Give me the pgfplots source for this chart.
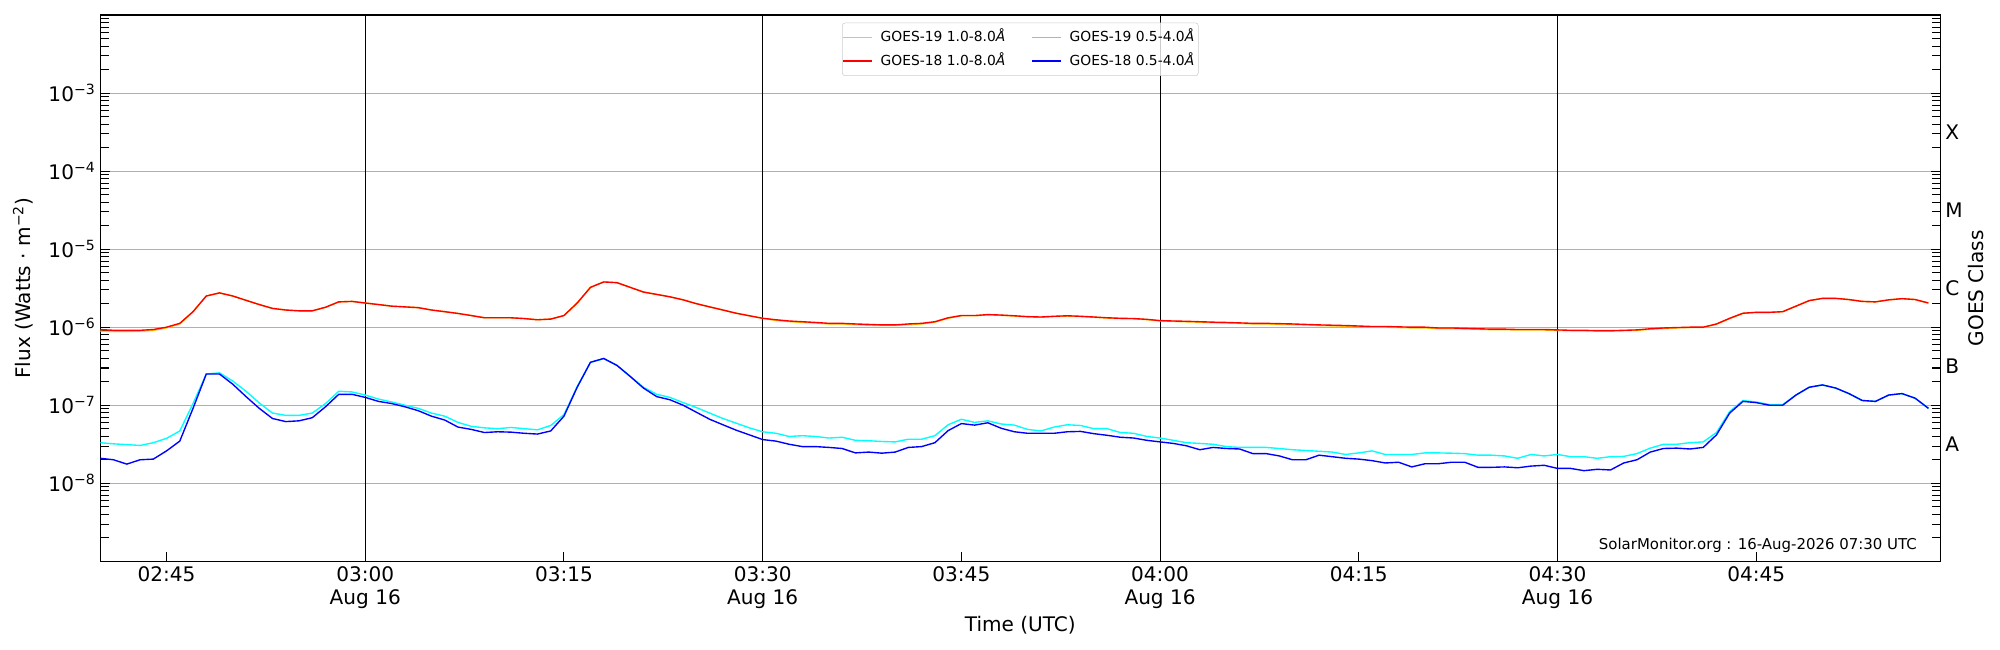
\documentclass[border=0pt]{standalone}
\usepackage{fontspec}
\setmainfont{DejaVu Sans}
\usepackage{pgfplots}
\usepackage{pgfplotstable}
\pgfplotsset{compat=1.18}
\definecolor{goldc}{RGB}{255,200,0}
\definecolor{redc}{RGB}{255,0,0}
\definecolor{cyanc}{RGB}{0,255,255}
\definecolor{bluec}{RGB}{0,0,255}
\definecolor{gridc}{RGB}{176,176,176}
\definecolor{legc}{RGB}{204,204,204}
\newcommand{\bigf}{\fontsize{14.5}{16.8}\selectfont}
\newcommand{\tpow}[1]{10\textsuperscript{−#1}}
\pgfplotstableread{
t g19l g18l g19s g18s
0 8.9e-7 9.33e-7 3.31e-8 2.09e-8
1 8.8e-7 9.12e-7 3.20e-8 2.00e-8
2 8.8e-7 9.12e-7 3.13e-8 1.76e-8
3 8.9e-7 9.12e-7 3.05e-8 2.00e-8
4 9.1e-7 9.33e-7 3.31e-8 2.04e-8
5 9.8e-7 1.00e-6 3.76e-8 2.60e-8
6 1.10e-6 1.12e-6 4.68e-8 3.47e-8
7 1.58e-6 1.58e-6 1.05e-7 9.12e-8
8 2.51e-6 2.51e-6 2.51e-7 2.51e-7
9 2.75e-6 2.75e-6 2.60e-7 2.51e-7
10 2.51e-6 2.51e-6 2.04e-7 1.86e-7
11 2.21e-6 2.21e-6 1.51e-7 1.29e-7
12 1.95e-6 1.95e-6 1.07e-7 9.12e-8
13 1.74e-6 1.74e-6 7.94e-8 6.76e-8
14 1.66e-6 1.66e-6 7.41e-8 6.17e-8
15 1.62e-6 1.62e-6 7.41e-8 6.31e-8
16 1.62e-6 1.62e-6 7.94e-8 6.92e-8
17 1.80e-6 1.80e-6 1.05e-7 9.55e-8
18 2.11e-6 2.11e-6 1.51e-7 1.38e-7
19 2.14e-6 2.14e-6 1.48e-7 1.38e-7
20 2.04e-6 2.04e-6 1.35e-7 1.26e-7
21 1.95e-6 1.95e-6 1.20e-7 1.12e-7
22 1.86e-6 1.86e-6 1.10e-7 1.05e-7
23 1.82e-6 1.82e-6 1.00e-7 9.55e-8
24 1.78e-6 1.78e-6 9.12e-8 8.51e-8
25 1.66e-6 1.66e-6 7.94e-8 7.24e-8
26 1.58e-6 1.58e-6 7.24e-8 6.46e-8
27 1.50e-6 1.50e-6 6.03e-8 5.25e-8
28 1.41e-6 1.41e-6 5.37e-8 4.90e-8
29 1.32e-6 1.32e-6 5.13e-8 4.47e-8
30 1.32e-6 1.32e-6 5.01e-8 4.57e-8
31 1.32e-6 1.32e-6 5.19e-8 4.52e-8
32 1.29e-6 1.29e-6 5.01e-8 4.37e-8
33 1.245e-6 1.245e-6 4.84e-8 4.27e-8
34 1.27e-6 1.27e-6 5.50e-8 4.68e-8
35 1.41e-6 1.41e-6 7.59e-8 7.24e-8
36 2.04e-6 2.04e-6 1.74e-7 1.70e-7
37 3.24e-6 3.24e-6 3.55e-7 3.55e-7
38 3.80e-6 3.80e-6 3.94e-7 3.98e-7
39 3.72e-6 3.72e-6 3.24e-7 3.24e-7
40 3.24e-6 3.24e-6 2.34e-7 2.34e-7
41 2.82e-6 2.82e-6 1.70e-7 1.66e-7
42 2.63e-6 2.63e-6 1.38e-7 1.29e-7
43 2.45e-6 2.45e-6 1.26e-7 1.175e-7
44 2.24e-6 2.24e-6 1.08e-7 1.00e-7
45 2.00e-6 2.00e-6 9.33e-8 8.13e-8
46 1.82e-6 1.82e-6 7.94e-8 6.61e-8
47 1.66e-6 1.66e-6 6.76e-8 5.62e-8
48 1.51e-6 1.51e-6 5.89e-8 4.79e-8
49 1.40e-6 1.40e-6 5.13e-8 4.17e-8
50 1.30e-6 1.30e-6 4.57e-8 3.63e-8
51 1.22e-6 1.245e-6 4.37e-8 3.47e-8
52 1.18e-6 1.20e-6 3.98e-8 3.16e-8
53 1.15e-6 1.175e-6 4.07e-8 2.95e-8
54 1.13e-6 1.15e-6 3.98e-8 2.95e-8
55 1.10e-6 1.12e-6 3.80e-8 2.88e-8
56 1.10e-6 1.12e-6 3.89e-8 2.79e-8
57 1.08e-6 1.10e-6 3.55e-8 2.45e-8
58 1.06e-6 1.085e-6 3.51e-8 2.51e-8
59 1.05e-6 1.07e-6 3.43e-8 2.43e-8
60 1.05e-6 1.07e-6 3.39e-8 2.51e-8
61 1.08e-6 1.10e-6 3.67e-8 2.88e-8
62 1.10e-6 1.12e-6 3.67e-8 2.95e-8
63 1.16e-6 1.175e-6 4.07e-8 3.31e-8
64 1.30e-6 1.32e-6 5.62e-8 4.73e-8
65 1.40e-6 1.41e-6 6.61e-8 5.82e-8
66 1.40e-6 1.41e-6 6.03e-8 5.56e-8
67 1.44e-6 1.45e-6 6.31e-8 5.96e-8
68 1.42e-6 1.43e-6 5.75e-8 5.07e-8
69 1.39e-6 1.40e-6 5.56e-8 4.57e-8
70 1.355e-6 1.365e-6 4.90e-8 4.37e-8
71 1.34e-6 1.35e-6 4.68e-8 4.37e-8
72 1.37e-6 1.38e-6 5.25e-8 4.37e-8
73 1.39e-6 1.40e-6 5.62e-8 4.57e-8
74 1.37e-6 1.38e-6 5.50e-8 4.62e-8
75 1.34e-6 1.35e-6 5.01e-8 4.32e-8
76 1.31e-6 1.32e-6 5.01e-8 4.12e-8
77 1.29e-6 1.30e-6 4.47e-8 3.89e-8
78 1.28e-6 1.29e-6 4.37e-8 3.80e-8
79 1.25e-6 1.26e-6 3.98e-8 3.55e-8
80 1.20e-6 1.215e-6 3.80e-8 3.39e-8
81 1.19e-6 1.20e-6 3.55e-8 3.24e-8
82 1.17e-6 1.19e-6 3.31e-8 3.02e-8
83 1.16e-6 1.175e-6 3.24e-8 2.69e-8
84 1.14e-6 1.16e-6 3.16e-8 2.88e-8
85 1.13e-6 1.15e-6 2.95e-8 2.79e-8
86 1.12e-6 1.135e-6 2.88e-8 2.75e-8
87 1.10e-6 1.12e-6 2.88e-8 2.40e-8
88 1.10e-6 1.12e-6 2.88e-8 2.40e-8
89 1.09e-6 1.11e-6 2.79e-8 2.24e-8
90 1.08e-6 1.10e-6 2.69e-8 2.00e-8
91 1.07e-6 1.085e-6 2.63e-8 2.00e-8
92 1.05e-6 1.07e-6 2.57e-8 2.29e-8
93 1.04e-6 1.06e-6 2.51e-8 2.19e-8
94 1.03e-6 1.05e-6 2.34e-8 2.09e-8
95 1.02e-6 1.035e-6 2.45e-8 2.04e-8
96 1.00e-6 1.02e-6 2.60e-8 1.95e-8
97 1.00e-6 1.02e-6 2.34e-8 1.82e-8
98 9.9e-7 1.01e-6 2.34e-8 1.86e-8
99 9.8e-7 1.00e-6 2.34e-8 1.62e-8
100 9.8e-7 1.00e-6 2.45e-8 1.78e-8
101 9.6e-7 9.77e-7 2.45e-8 1.78e-8
102 9.6e-7 9.77e-7 2.43e-8 1.86e-8
103 9.5e-7 9.66e-7 2.40e-8 1.86e-8
104 9.4e-7 9.55e-7 2.29e-8 1.60e-8
105 9.3e-7 9.44e-7 2.29e-8 1.60e-8
106 9.3e-7 9.44e-7 2.24e-8 1.62e-8
107 9.2e-7 9.33e-7 2.09e-8 1.58e-8
108 9.2e-7 9.33e-7 2.34e-8 1.66e-8
109 9.2e-7 9.33e-7 2.24e-8 1.70e-8
110 9.1e-7 9.23e-7 2.34e-8 1.55e-8
111 9.0e-7 9.12e-7 2.19e-8 1.55e-8
112 9.0e-7 9.12e-7 2.19e-8 1.45e-8
113 8.9e-7 9.02e-7 2.09e-8 1.51e-8
114 8.9e-7 9.02e-7 2.19e-8 1.48e-8
115 9.0e-7 9.12e-7 2.21e-8 1.82e-8
116 9.1e-7 9.23e-7 2.40e-8 2.00e-8
117 9.4e-7 9.55e-7 2.82e-8 2.51e-8
118 9.6e-7 9.77e-7 3.16e-8 2.79e-8
119 9.8e-7 9.89e-7 3.16e-8 2.82e-8
120 9.9e-7 1.00e-6 3.31e-8 2.75e-8
121 9.9e-7 1.00e-6 3.39e-8 2.88e-8
122 1.09e-6 1.10e-6 4.47e-8 4.17e-8
123 1.29e-6 1.30e-6 8.32e-8 7.94e-8
124 1.50e-6 1.51e-6 1.15e-7 1.12e-7
125 1.55e-6 1.55e-6 1.10e-7 1.08e-7
126 1.55e-6 1.55e-6 1.02e-7 1.00e-7
127 1.58e-6 1.58e-6 1.02e-7 1.00e-7
128 1.86e-6 1.86e-6 1.35e-7 1.35e-7
129 2.19e-6 2.19e-6 1.70e-7 1.70e-7
130 2.34e-6 2.34e-6 1.82e-7 1.82e-7
131 2.34e-6 2.34e-6 1.66e-7 1.66e-7
132 2.26e-6 2.26e-6 1.41e-7 1.41e-7
133 2.14e-6 2.14e-6 1.15e-7 1.15e-7
134 2.11e-6 2.11e-6 1.12e-7 1.12e-7
135 2.24e-6 2.24e-6 1.35e-7 1.35e-7
136 2.32e-6 2.32e-6 1.41e-7 1.41e-7
137 2.26e-6 2.26e-6 1.23e-7 1.23e-7
138 2.04e-6 2.04e-6 9.12e-8 9.12e-8
}\goesdata
\begin{document}
\begin{tikzpicture}
\path[use as bounding box] (0,0) rectangle (1445.4pt,469.75pt);
\begin{axis}[
  at={(72.49pt,64.1pt)}, anchor=south west, scale only axis,
  width=1329.8pt, height=394.8pt,
  xmin=0, xmax=138.9, ymode=log, ymin=1e-9, ymax=1e-2,
  axis line style={line width=0.9pt},
  tick align=inside, xtick pos=left, ytick pos=both,
  major tick length=7pt, minor tick length=6pt,
  tick style={black, line width=0.75pt},
  xtick={5,20,35,50,65,80,95,110,125},
  xticklabels={02:45,{03:00\\Aug 16},03:15,{03:30\\Aug 16},03:45,{04:00\\Aug 16},04:15,{04:30\\Aug 16},04:45},
  xticklabel style={align=center, font=\bigf},
  ytick={1e-8,1e-7,1e-6,1e-5,1e-4,1e-3},
  yticklabels={\tpow{8},\tpow{7},\tpow{6},\tpow{5},\tpow{4},\tpow{3}},
  yticklabel style={font=\bigf},
  minor ytick={2e-9,3e-9,4e-9,5e-9,6e-9,7e-9,8e-9,9e-9,
    2e-8,3e-8,4e-8,5e-8,6e-8,7e-8,8e-8,9e-8,
    2e-7,3e-7,4e-7,5e-7,6e-7,7e-7,8e-7,9e-7,
    2e-6,3e-6,4e-6,5e-6,6e-6,7e-6,8e-6,9e-6,
    2e-5,3e-5,4e-5,5e-5,6e-5,7e-5,8e-5,9e-5,
    2e-4,3e-4,4e-4,5e-4,6e-4,7e-4,8e-4,9e-4,
    2e-3,3e-3,4e-3,5e-3,6e-3,7e-3,8e-3,9e-3},
  ymajorgrids=true,
  major grid style={gridc, line width=0.75pt},
  extra x ticks={20,50,80,110},
  extra x tick labels={\mbox{},\mbox{},\mbox{},\mbox{}},
  extra x tick style={grid=major, major tick length=0pt, major grid style={black, line width=0.75pt}},
  xlabel={Time (UTC)},
  ylabel={Flux (Watts · m\textsuperscript{−2})},
  label style={font=\bigf},
  xlabel style={at={(axis description cs:0.5,-0.1166)}, anchor=center},
  ylabel style={at={(axis description cs:-0.042,0.5)}, anchor=center},
  legend columns=2, legend cell align=left,
  legend image code/.code={\draw[#1] (0pt,0pt) -- (21pt,0pt);},
  legend style={at={(0.5,0.986)}, anchor=north, draw=legc, rounded corners=2pt,
    fill=white, fill opacity=0.8, text opacity=1,
    font=\fontsize{10}{12}\selectfont,
    inner xsep=0pt, inner ysep=2.8pt, row sep=1.9pt,
    nodes={inner sep=2.9pt, text height=7.5pt, text depth=2pt},
    /tikz/every odd column/.append style={column sep=2.7pt},
    /tikz/every even column/.append style={column sep=15.9pt}},
]
\addplot[goldc, line width=1pt, forget plot] table[x=t, y=g19l] {\goesdata};
\addplot[redc, line width=1pt, forget plot] table[x=t, y=g18l] {\goesdata};
\addplot[cyanc, line width=1pt, forget plot] table[x=t, y=g19s] {\goesdata};
\addplot[bluec, line width=1pt, forget plot] table[x=t, y=g18s] {\goesdata};
\addlegendimage{goldc, line width=1.1pt, draw opacity=1}
\addlegendentry{GOES-19 1.0-8.0\textit{Å}}
\addlegendimage{cyanc, line width=1.1pt, draw opacity=1}
\addlegendentry{GOES-19 0.5-4.0\textit{Å}}
\addlegendimage{redc, line width=1.1pt, draw opacity=1}
\addlegendentry{GOES-18 1.0-8.0\textit{Å}}
\addlegendimage{bluec, line width=1.1pt, draw opacity=1}
\addlegendentry{GOES-18 0.5-4.0\textit{Å}}
\node[anchor=base east, font=\fontsize{10.8}{13}\selectfont, inner sep=0pt] at (rel axis cs:0.9873,0.0225) {SolarMonitor.org : 16-Aug-2026 07:30 UTC};
\end{axis}
\begin{axis}[
  at={(72.49pt,64.1pt)}, anchor=south west, scale only axis,
  width=1329.8pt, height=394.8pt,
  xmin=0, xmax=138.9, ymode=log, ymin=1e-9, ymax=1e-2,
  hide x axis, axis y line*=right, y axis line style={draw=none},
  ytick={3.162e-8,3.162e-7,3.162e-6,3.162e-5,3.162e-4},
  yticklabels={A,B,C,M,X},
  major tick length=0pt, yminorticks=false,
  yticklabel style={font=\bigf},
  ylabel={GOES Class},
  ylabel style={font=\bigf, at={(axis description cs:1.0196,0.5)}, anchor=center},
]
\end{axis}
\end{tikzpicture}
\end{document}
